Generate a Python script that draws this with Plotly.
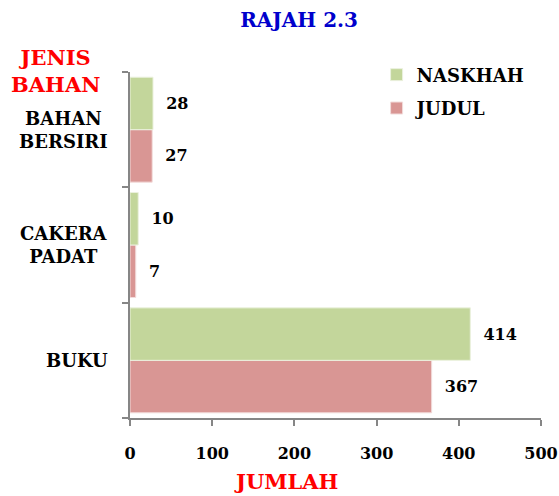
import plotly.graph_objects as go

categories = ["BUKU", "CAKERA PADAT", "BAHAN BERSIRI"]
category_labels = ["BUKU", "CAKERA<br>PADAT", "BAHAN<br>BERSIRI"]
naskhah = [414, 10, 28]
judul = [367, 7, 27]
x_ticks = [0, 100, 200, 300, 400, 500]

FONT = "DejaVu Serif"
GREEN = "#C3D69B"
RED = "#D99694"
AXIS = "#868686"
pad = "\u00a0\u00a0"

fig = go.Figure()
fig.add_trace(go.Bar(
    y=categories, x=judul, orientation="h", name="<b>JUDUL</b>",
    legendgroup="j", legendrank=2,
    marker=dict(color=RED, line=dict(color="#F2DCDB", width=1)),
    text=[pad + "<b>%d</b>" % v for v in judul], textposition="outside",
    textfont=dict(family=FONT, size=16, color="black"),
    cliponaxis=False,
))
fig.add_trace(go.Bar(
    y=categories, x=naskhah, orientation="h", name="<b>NASKHAH</b>",
    legendgroup="n", legendrank=1,
    marker=dict(color=GREEN, line=dict(color="#EBF1DE", width=1)),
    text=[pad + "<b>%d</b>" % v for v in naskhah], textposition="outside",
    textfont=dict(family=FONT, size=16, color="black"),
    cliponaxis=False,
))

annotations = []
for c, lab in zip(categories, category_labels):
    annotations.append(dict(
        x=-0.048, xref="paper", y=c, yref="y", text="<b>" + lab + "</b>",
        showarrow=False, xanchor="right", yanchor="middle", align="center",
        font=dict(family=FONT, size=18, color="black"),
    ))
annotations.append(dict(
    x=-0.182, xref="paper", y=1.085, yref="paper", text="<b>JENIS<br>BAHAN</b>",
    showarrow=False, xanchor="center", yanchor="top", align="center",
    font=dict(family=FONT, size=21, color="#FF0000"),
))
annotations.append(dict(
    x=0.38, xref="paper", y=-0.143, yref="paper", text="<b>JUMLAH</b>",
    showarrow=False, xanchor="center", yanchor="top",
    font=dict(family=FONT, size=21, color="#FF0000"),
))

fig.update_layout(
    width=559, height=496,
    margin=dict(l=130, r=18, t=72, b=78, autoexpand=False),
    paper_bgcolor="white", plot_bgcolor="white",
    barmode="group", bargap=0.09, bargroupgap=0,
    title=dict(text="<b>RAJAH 2.3</b>", x=0.535, xanchor="center", y=0.96, yanchor="middle",
               font=dict(family=FONT, size=20, color="#0000CC")),
    showlegend=True,
    legend=dict(traceorder="grouped", x=0.60, y=1.045, xanchor="left", yanchor="top",
                font=dict(family=FONT, size=18, color="black"),
                bgcolor="rgba(0,0,0,0)", itemwidth=30, tracegroupgap=7),
    annotations=annotations,
    font=dict(family=FONT, color="black"),
)
fig.update_xaxes(
    range=[0, 500], tickvals=x_ticks, ticktext=["<b>%d</b>" % v for v in x_ticks],
    showgrid=False, zeroline=False, showline=True, linecolor=AXIS, linewidth=2,
    ticks="outside", ticklen=6, tickcolor=AXIS, tickwidth=2, automargin=False,
    tickfont=dict(family=FONT, size=16, color="black"), ticklabelstandoff=14,
)
fig.update_yaxes(
    categoryorder="array", categoryarray=categories, range=[-0.5, 2.5],
    showgrid=False, zeroline=False, showline=True, linecolor=AXIS, linewidth=2,
    ticks="outside", ticklen=6, tickcolor=AXIS, tickwidth=2, tickson="boundaries",
    showticklabels=False, automargin=False,
)

fig.write_html(
    "out.html",
    config={"displayModeBar": False},
    post_script="document.body.style.margin='0';document.body.style.overflow='hidden';",
)
